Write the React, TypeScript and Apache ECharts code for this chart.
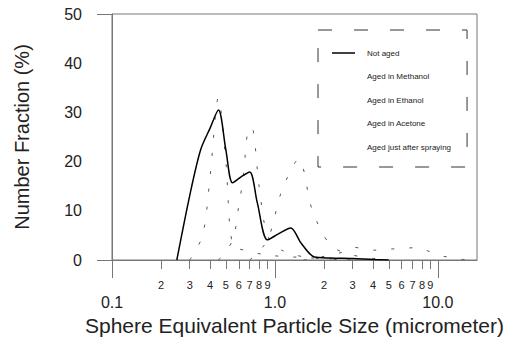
import React, { useEffect, useRef } from "react";
import * as echarts from "echarts";

// Particle size (micrometer) and number fraction (%)
const NOT_AGED_X = [0.25, 0.3, 0.35, 0.4, 0.45, 0.5, 0.55, 0.62, 0.7, 0.78, 0.9, 1.05, 1.25, 1.45, 1.75, 2.2, 3.0, 4.0, 5.0];
const NOT_AGED_Y = [0, 13.1, 22.4, 26.8, 30.5, 22.4, 15.7, 16.9, 17.9, 11.6, 4.1, 5.3, 6.5, 3.4, 0.6, 0.4, 0.3, 0.1, 0];

const METHANOL_X = [0.3, 0.36, 0.4, 0.45, 0.5, 0.55, 0.65, 0.9, 1.5, 3.0];
const METHANOL_Y = [0, 5, 17, 33, 20, 3, 2, 1, 0.5, 0];

const ETHANOL_X = [0.45, 0.55, 0.6, 0.64, 0.68, 0.72, 0.8, 0.9, 1.1, 1.6, 3.0];
const ETHANOL_Y = [0, 4, 11, 17, 26, 27, 15, 5, 2, 0.5, 0];

const ACETONE_X = [0.7, 0.9, 1.1, 1.4, 1.7, 2.2, 3.0, 5.0];
const ACETONE_Y = [0, 4, 14, 20.5, 10, 3, 1, 0];

const SPRAY_X = [1.5, 2.2, 2.6, 3.0, 4.0, 5.0, 7.5, 10, 15];
const SPRAY_Y = [0, 1, 1.6, 2.6, 2, 2.2, 2.5, 1, 0];

const SERIES_NAMES = ["Not aged", "Aged in Methanol", "Aged in Ethanol", "Aged in Acetone", "Aged just after spraying"];

const X_MIN = 0.1;
const X_MAX = 17.4;
const MAJOR_TICKS = [0.1, 1, 10];
const MAJOR_LABELS = ["0.1", "1.0", "10.0"];
const MINOR_TICKS = [0.2, 0.3, 0.4, 0.5, 0.6, 0.7, 0.8, 0.9, 2, 3, 4, 5, 6, 7, 8, 9];

const Y_MIN = 0;
const Y_MAX = 50;
const Y_INTERVAL = 10;

const FONT = "'Liberation Sans', Arial, Helvetica, sans-serif";
const TEXT = "#222";
const AXIS = "#777";

const lg = (v: number) => Math.log10(v);
const toPairs = (xs: number[], ys: number[]) => xs.map((x, i) => [lg(x), ys[i]]);

export default function App() {
  const ref = useRef<HTMLDivElement>(null);

  useEffect(() => {
    document.body.style.margin = "0";
    if (!ref.current) return;
    const chart = echarts.init(ref.current, undefined, { renderer: "svg" });

    const majorLog = MAJOR_TICKS.map(lg);
    const minorLog = MINOR_TICKS.map(lg);

    const faint = (name: string, xs: number[], ys: number[]) => ({
      name,
      type: "line",
      xAxisIndex: 0,
      symbol: "none",
      smooth: 0.3,
      data: toPairs(xs, ys),
      lineStyle: { color: "#555", width: 1, type: [3, 15] },
      itemStyle: { color: "#555" },
      z: 1,
    });

    chart.setOption({
      animation: false,
      backgroundColor: "#fff",
      textStyle: { fontFamily: FONT },
      grid: {
        left: 112,
        right: 43,
        top: 14,
        bottom: 82,
        show: true,
        borderColor: AXIS,
        borderWidth: 1,
        backgroundColor: "transparent",
      },
      legend: {
        orient: "vertical",
        left: 318,
        top: 30,
        padding: [16, 16, 13, 14],
        icon: "rect",
        itemWidth: 23,
        itemHeight: 1.5,
        itemGap: 9.5,
        borderColor: "#333",
        borderWidth: 1,
        borderType: [14, 22],
        textStyle: { fontSize: 8, lineHeight: 14, color: TEXT, fontFamily: FONT, padding: [0, 0, 0, 7] },
        data: SERIES_NAMES.map((n, i) =>
          i === 0
            ? { name: n, itemStyle: { color: "#000" } }
            : { name: n, itemStyle: { opacity: 0 }, lineStyle: { opacity: 0 } }
        ),
      },
      xAxis: [
        {
          type: "value",
          min: lg(X_MIN),
          max: lg(X_MAX),
          position: "bottom",
          name: "Sphere Equivalent Particle Size (micrometer)",
          nameLocation: "middle",
          nameGap: 54,
          nameTextStyle: { fontSize: 21, color: TEXT, fontFamily: FONT },
          axisLine: { show: true, onZero: false, lineStyle: { color: AXIS, width: 1 } },
          axisTick: { show: true, length: 18, customValues: majorLog, lineStyle: { color: AXIS } },
          axisLabel: {
            customValues: majorLog,
            margin: 34,
            fontSize: 16,
            color: TEXT,
            fontFamily: FONT,
            formatter: (v: number) => {
              const i = majorLog.findIndex((m) => Math.abs(m - v) < 1e-6);
              return i >= 0 ? MAJOR_LABELS[i] : "";
            },
          },
          splitLine: { show: false },
        },
        {
          type: "value",
          min: lg(X_MIN),
          max: lg(X_MAX),
          position: "bottom",
          axisLine: { show: false, onZero: false },
          axisTick: { show: true, length: 9, customValues: minorLog, lineStyle: { color: AXIS } },
          axisLabel: {
            customValues: minorLog,
            margin: 19,
            fontSize: 11,
            color: TEXT,
            fontFamily: FONT,
            formatter: (v: number) => {
              const p = Math.pow(10, Math.floor(v + 1e-9));
              return String(Math.round(Math.pow(10, v) / p));
            },
          },
          splitLine: { show: false },
        },
      ],
      yAxis: {
        type: "value",
        min: Y_MIN,
        max: Y_MAX,
        interval: Y_INTERVAL,
        name: "Number Fraction (%)",
        nameLocation: "middle",
        nameGap: 80,
        nameTextStyle: { fontSize: 20, color: TEXT, fontFamily: FONT },
        axisLine: { show: true, onZero: false, lineStyle: { color: AXIS, width: 1 } },
        axisTick: { show: true, length: 15, customValues: [Y_MIN, Y_MAX], lineStyle: { color: AXIS } },
        axisLabel: { margin: 30, fontSize: 16, color: TEXT, fontFamily: FONT },
        splitLine: { show: false },
      },
      series: [
        {
          name: SERIES_NAMES[0],
          type: "line",
          xAxisIndex: 0,
          symbol: "none",
          smooth: 0.3,
          data: toPairs(NOT_AGED_X, NOT_AGED_Y),
          lineStyle: { color: "#000", width: 1.5 },
          itemStyle: { color: "#000" },
          z: 3,
        },
        faint(SERIES_NAMES[1], METHANOL_X, METHANOL_Y),
        faint(SERIES_NAMES[2], ETHANOL_X, ETHANOL_Y),
        faint(SERIES_NAMES[3], ACETONE_X, ACETONE_Y),
        faint(SERIES_NAMES[4], SPRAY_X, SPRAY_Y),
      ],
    });

    return () => chart.dispose();
  }, []);

  return <div ref={ref} style={{ width: 520, height: 342 }} />;
}
